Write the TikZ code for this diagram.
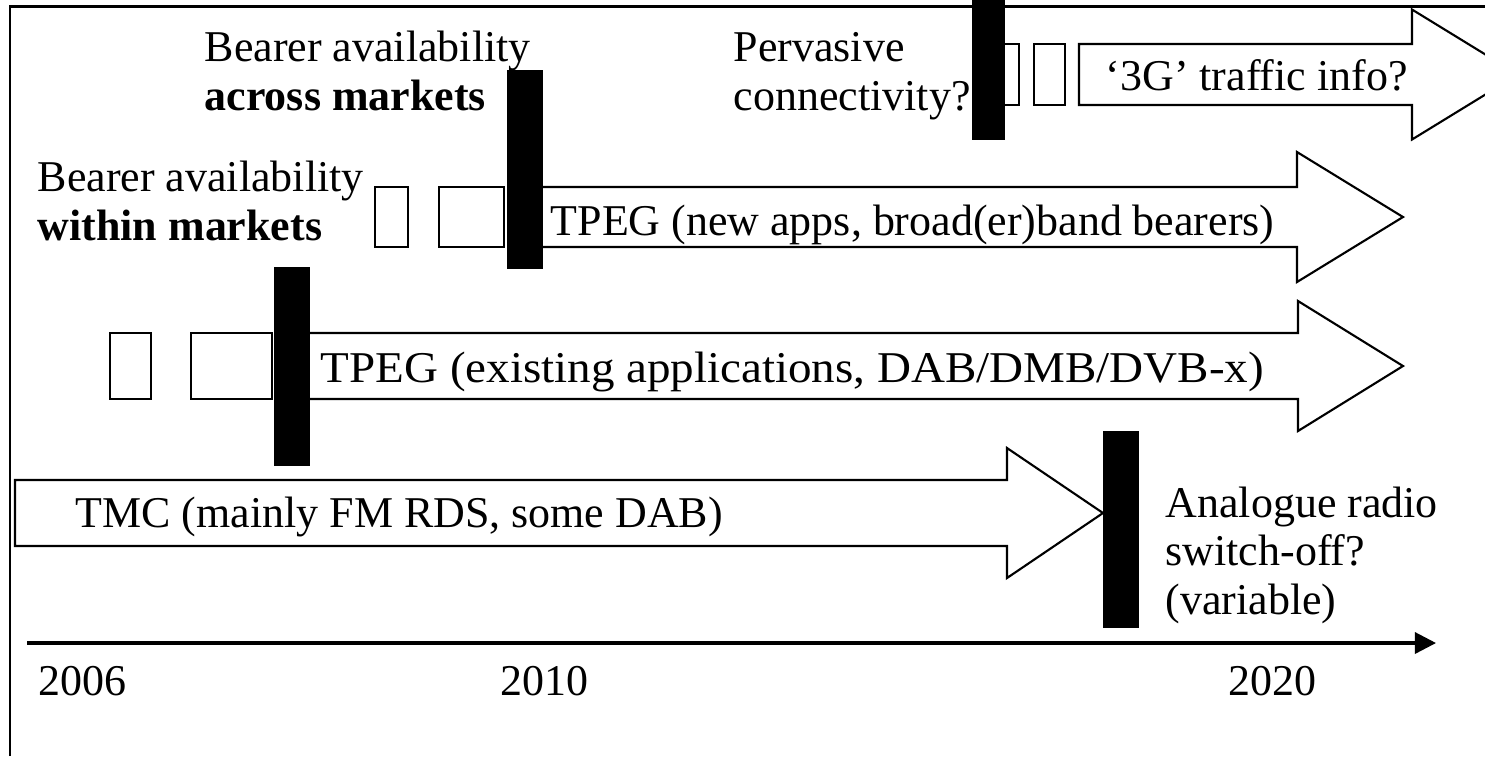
\documentclass[tikz,border=0pt]{standalone}
\usepackage{fontspec}
\setmainfont{Liberation Serif}
\usetikzlibrary{arrows.meta}

\tikzset{
  lbl/.style={font=\fontsize{12.5}{13.7}\selectfont, anchor=base west, inner sep=0pt, align=left},
  blk/.style={draw, line width=0.6pt, fill=white},
  bar/.style={fill=black},
}
% block arrow: left x, head base x, tip x, centre y, half body height
\newcommand{\bigarrow}[5]{%
  \draw[blk] (#1,{#4-#5}) -- (#2,{#4-#5}) -- (#2,{#4-65}) -- (#3,#4)
    -- (#2,{#4+65}) -- (#2,{#4+#5}) -- (#1,{#4+#5}) -- cycle;}

\begin{document}
\begin{tikzpicture}[x=0.01cm, y=-0.01cm]
    \useasboundingbox (0,0) rectangle (1485,756);
    \clip (0,0) rectangle (1485,756);
    % frame
    \draw[line width=0.85pt] (10,756) -- (10,6) -- (1485,6);
    % block arrows
    \bigarrow{1079}{1412}{1518}{74.5}{30.5}
    \bigarrow{525}{1297}{1403}{217}{30}
    \bigarrow{300}{1298}{1403}{366}{33}
    \bigarrow{15}{1007}{1103}{513}{33}
    % empty boxes
    \foreach \xa/\xb/\ya/\yb in {990/1019/44/105, 1034/1065/44/105,
        375/408/187/247, 439/504/187/247, 110/151/333/399, 191/272/333/399}
        \draw[blk] (\xa,\ya) rectangle (\xb,\yb);
    % milestone bars
    \foreach \xa/\xb/\ya/\yb in {972/1005/0/140, 507/543/70/269,
        274/310/267/466, 1103/1139/431/628}
        \fill[bar] (\xa,\ya) rectangle (\xb,\yb);
    % labels (base = last line)
    \node[lbl] (across) at (204,110) {Bearer availability\\\textbf{across markets}};
    \node[lbl] (perv) at (733,110) {Pervasive\\connectivity?};
    \node[lbl] (within) at (37,240) {Bearer availability\\\textbf{within markets}};
    \node[lbl] (threeg) at (1105,90) {`3G' traffic info?};
    \node[lbl] (tpegnew) at (550,235) {TPEG (new apps, broad(er)band bearers)};
    \node[lbl] (tpegold) at (320,382) {\scalebox{1.07}[1]{TPEG (existing applications, DAB/DMB/DVB-x)}};
    \node[lbl] (tmc) at (75,527) {TMC (mainly FM RDS, some DAB)};
    \node[lbl] (switchoff) at (1165,614) {Analogue radio\\switch-off?\\(variable)};
    % time axis
    \coordinate (t0) at (27,643);
    \coordinate (t1) at (1436,643);
    \draw[line width=0.9pt, -{Triangle[length=6pt,width=6pt]}] (t0) -- (t1);
    \foreach \yr/\xp in {2006/38, 2010/500, 2020/1228}
        \node[lbl] (y\yr) at (\xp,695) {\yr};
\end{tikzpicture}
\end{document}
